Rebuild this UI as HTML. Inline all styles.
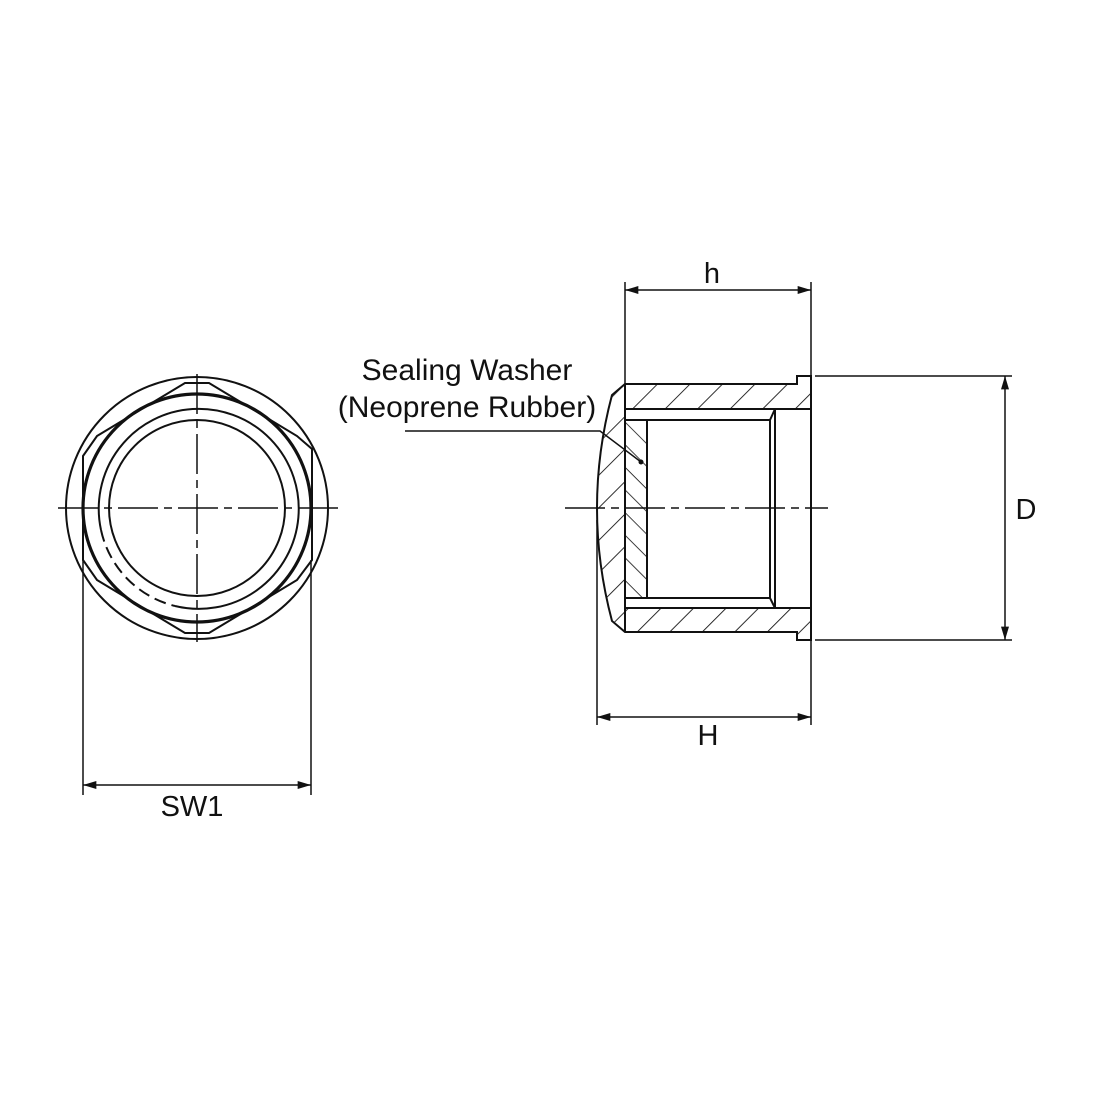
<!DOCTYPE html>
<html><head><style>body{margin:0;background:#fff}svg{display:block}text{font-family:"Liberation Sans",sans-serif;fill:#111}</style></head><body>
<svg width="1100" height="1100" viewBox="0 0 1100 1100" xmlns="http://www.w3.org/2000/svg">
<defs>
<marker id="a" viewBox="0 0 10 6" refX="10" refY="3" markerWidth="22" markerHeight="8" markerUnits="userSpaceOnUse" orient="auto-start-reverse"><path d="M0,0 L10,3 L0,6z" fill="#111"/></marker>
<pattern id="h" width="23" height="23" patternUnits="userSpaceOnUse" patternTransform="rotate(-45)"><line x1="0" y1="0" x2="23" y2="0" stroke="#111" stroke-width="1.8"/></pattern>
<pattern id="h2" width="16" height="16" patternUnits="userSpaceOnUse" patternTransform="rotate(45)"><line x1="0" y1="0" x2="16" y2="0" stroke="#111" stroke-width="1.6"/></pattern>
</defs>
<g fill="none" stroke="#111" stroke-width="2">
<circle cx="197" cy="508" r="131"/>
<polygon points="185,383 209,383 297,436 312,449 312,560 297,580 209,633 185,633 97,580 83,560 83,456 97,436"/>
<circle cx="197" cy="508" r="114" stroke-width="3.2"/>
<path d="M101,530 A100,100 0 1 1 175,606"/>
<path d="M101,530 A100,100 0 0 0 175,606" stroke-dasharray="12,6"/>
<circle cx="197" cy="508" r="88"/>
<line x1="58" y1="508" x2="338" y2="508" stroke-width="1.5" stroke-dasharray="40,6,8,6"/>
<line x1="197" y1="374" x2="197" y2="642" stroke-width="1.5" stroke-dasharray="40,6,8,6"/>
<line x1="83" y1="560" x2="83" y2="795" stroke-width="1.5"/>
<line x1="311" y1="560" x2="311" y2="795" stroke-width="1.5"/>
<line x1="83" y1="785" x2="311" y2="785" stroke-width="1.5" marker-start="url(#a)" marker-end="url(#a)"/>
<path d="M625,384 L797,384 L797,376 L811,376 L811,409 L625,409 L625,608 L811,608 L811,640 L797,640 L797,632 L625,632 L612,621 Q582,508 612,395 Z" fill="url(#h)" stroke="none"/>
<rect x="625" y="420" width="22" height="178" fill="url(#h2)" stroke="none"/>
<path d="M625,384 L797,384 L797,376 L811,376 L811,640 L797,640 L797,632 L625,632 L612,621 Q582,508 612,395 Z"/>
<line x1="625" y1="384" x2="625" y2="632"/>
<line x1="625" y1="409" x2="811" y2="409"/>
<line x1="625" y1="608" x2="811" y2="608"/>
<path d="M625,420 L770,420 L775,409 M625,598 L770,598 L775,608" />
<line x1="647" y1="420" x2="647" y2="598"/>
<line x1="770" y1="420" x2="770" y2="598"/>
<line x1="775" y1="409" x2="775" y2="608"/>
<line x1="565" y1="508" x2="828" y2="508" stroke-width="1.5" stroke-dasharray="40,6,8,6"/>
<line x1="625" y1="282" x2="625" y2="384" stroke-width="1.5"/>
<line x1="811" y1="282" x2="811" y2="376" stroke-width="1.5"/>
<line x1="625" y1="290" x2="811" y2="290" stroke-width="1.5" marker-start="url(#a)" marker-end="url(#a)"/>
<line x1="597" y1="520" x2="597" y2="725" stroke-width="1.5"/>
<line x1="811" y1="640" x2="811" y2="725" stroke-width="1.5"/>
<line x1="597" y1="717" x2="811" y2="717" stroke-width="1.5" marker-start="url(#a)" marker-end="url(#a)"/>
<line x1="815" y1="376" x2="1012" y2="376" stroke-width="1.5"/>
<line x1="815" y1="640" x2="1012" y2="640" stroke-width="1.5"/>
<line x1="1005" y1="376" x2="1005" y2="640" stroke-width="1.5" marker-start="url(#a)" marker-end="url(#a)"/>
<polyline points="405,431 600,431 641,462" stroke-width="1.5"/>
</g>
<circle cx="641" cy="462" r="2.5" fill="#111"/>
<text x="712" y="283" font-size="29" text-anchor="middle">h</text>
<text x="708" y="745" font-size="29" text-anchor="middle">H</text>
<text x="1026" y="519" font-size="29" text-anchor="middle">D</text>
<text x="192" y="816" font-size="29" text-anchor="middle">SW1</text>
<text x="467" y="380" font-size="30" text-anchor="middle">Sealing Washer</text>
<text x="467" y="417" font-size="30" text-anchor="middle">(Neoprene Rubber)</text>
</svg>
</body></html>
